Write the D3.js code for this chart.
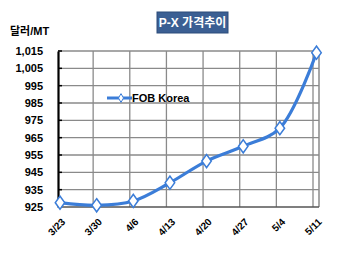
<!DOCTYPE html>
<html>
<head>
<meta charset="utf-8">
<script src="https://cdn.jsdelivr.net/npm/d3@7"></script>
<style>
  html, body { margin: 0; padding: 0; background: #fff; }
  svg { display: block; font-family: Arial, "Liberation Sans", "Noto Sans CJK KR", sans-serif; }
</style>
</head>
<body>
<div id="chart"></div>
<script>
// chart data
var weeks = ["3/23", "3/30", "4/6", "4/13", "4/20", "4/27", "5/4", "5/11"];
var fobKorea = [927.5, 926, 928.5, 939, 951.5, 960, 970.5, 1014];
var yTicks = [925, 935, 945, 955, 965, 975, 985, 995, 1005, 1015];
var seriesName = "FOB Korea";
var chartTitle = "P-X 가격추이";
var unitLabel = "달러/MT";

var width = 350, height = 257;
var margin = {top: 51, right: 31, bottom: 50, left: 58};

var svg = d3.select("#chart").append("svg")
    .attr("width", width)
    .attr("height", height);

//scales
var x = d3.scalePoint().domain(weeks).range([60, 316.5]);
var y = d3.scaleLinear().domain([925, 1015]).range([height - margin.bottom, margin.top]);

var plotRight = width - margin.right;
var gridColor = "#8a8a8a";

//horizontal grid
svg.append("g").selectAll("line").data(yTicks.slice(1)).enter().append("line")
    .attr("x1", margin.left).attr("x2", plotRight)
    .attr("y1", function (d) { return y(d); })
    .attr("y2", function (d) { return y(d); })
    .style("stroke", gridColor).style("stroke-width", 1.3);

//vertical grid (slightly left of the points, as in the original)
svg.append("g").selectAll("line").data(weeks.slice(1)).enter().append("line")
    .attr("x1", function (d) { return x(d) - 3.5; })
    .attr("x2", function (d) { return x(d) - 3.5; })
    .attr("y1", y(1015)).attr("y2", y(925))
    .style("stroke", gridColor).style("stroke-width", 1.3);

//right border
svg.append("line")
    .attr("x1", plotRight).attr("x2", plotRight)
    .attr("y1", y(1015)).attr("y2", y(925))
    .style("stroke", gridColor).style("stroke-width", 1.5);

//bottom axis
svg.append("line")
    .attr("x1", margin.left).attr("x2", plotRight)
    .attr("y1", y(925)).attr("y2", y(925))
    .style("stroke", "#555").style("stroke-width", 1.5);

//y axis with labels
var yAxis = d3.axisLeft(y).tickValues(yTicks).tickSize(0).tickPadding(15)
    .tickFormat(d3.format(","));
var yAxisGroup = svg.append("g")
    .attr("transform", "translate(" + margin.left + ",0)")
    .call(yAxis);
yAxisGroup.select(".domain").style("stroke", "#000").style("stroke-width", 2.2);
yAxisGroup.selectAll("text")
    .style("font-size", "11px").style("font-weight", "bold").style("fill", "#000");

//small ticks on left axis
svg.append("g").selectAll("line").data(yTicks).enter().append("line")
    .attr("x1", margin.left).attr("x2", margin.left + 4)
    .attr("y1", function (d) { return y(d); })
    .attr("y2", function (d) { return y(d); })
    .style("stroke", "#000").style("stroke-width", 1.5);

//x axis labels rotated
var xAxis = d3.axisBottom(x).tickSize(0).tickPadding(0);
var xAxisGroup = svg.append("g")
    .attr("transform", "translate(0," + (y(925) + 13) + ")")
    .call(xAxis);
xAxisGroup.select(".domain").remove();
xAxisGroup.selectAll("text")
    .attr("transform", "translate(3,0) rotate(-45)")
    .attr("dy", "0.35em")
    .style("text-anchor", "end")
    .style("font-size", "10px").style("font-weight", "bold").style("fill", "#000");

//line
var blue = "#3b7dd8";
var line = d3.line()
    .x(function (d, i) { return x(weeks[i]); })
    .y(function (d) { return y(d); })
    .curve(d3.curveCatmullRom.alpha(0.5));

svg.append("path")
    .datum(fobKorea)
    .attr("d", line)
    .style("fill", "none").style("stroke", blue).style("stroke-width", 3.2);

var diamond = d3.symbol().type(d3.symbolDiamond).size(50);
svg.append("g").selectAll("path").data(fobKorea).enter().append("path")
    .attr("d", diamond)
    .attr("transform", function (d, i) {
        return "translate(" + x(weeks[i]) + "," + y(d) + ") scale(1.25,1)";
    })
    .style("fill", "#fff").style("stroke", blue).style("stroke-width", 1.3);

//legend
var legend = svg.append("g").attr("transform", "translate(107,98)");
legend.append("line").attr("x1", 0).attr("x2", 25).attr("y1", 0).attr("y2", 0)
    .style("stroke", blue).style("stroke-width", 3);
legend.append("path").attr("d", d3.symbol().type(d3.symbolDiamond).size(22))
    .attr("transform", "translate(14,0)")
    .style("fill", "#fff").style("stroke", blue).style("stroke-width", 1);
legend.append("text").attr("x", 25).attr("y", 4)
    .text(seriesName)
    .style("font-size", "11px").style("font-weight", "bold");

//title box
svg.append("rect")
    .attr("x", 157).attr("y", 12).attr("width", 71).attr("height", 21)
    .style("fill", "#3b5f93").style("stroke", "#2d4c7a").style("stroke-width", 1);
svg.append("text")
    .attr("x", 192.5).attr("y", 27)
    .attr("text-anchor", "middle")
    .text(chartTitle)
    .style("fill", "#fff").style("font-size", "12px").style("font-weight", "bold");

//unit label
svg.append("text")
    .attr("x", 10).attr("y", 35)
    .text(unitLabel)
    .style("font-size", "11px").style("font-weight", "bold");
</script>
</body>
</html>
